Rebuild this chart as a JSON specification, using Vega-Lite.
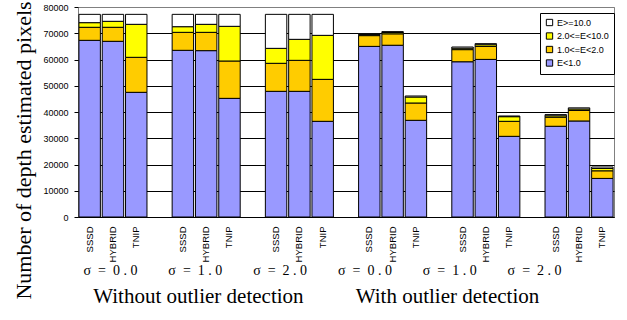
{
  "$schema": "https://vega.github.io/schema/vega-lite/v6.json",
  "autosize": "none",
  "width": 536,
  "height": 210,
  "padding": {"left": 78, "top": 7, "right": 13, "bottom": 103},
  "background": "white",
  "config": {
    "view": {"stroke": "#808080", "strokeWidth": 1},
    "font": "Liberation Sans",
    "axis": {"labelColor": "black", "titleColor": "black"}
  },
  "data": {
    "values": [
      {"det": "Without outlier detection", "grp": "0.0|W", "bar": "W0 SSSD", "lt1": 67300, "r12": 4970, "r210": 1760, "ge10": 3170},
      {"det": "Without outlier detection", "grp": "0.0|W", "bar": "W0 HYBRID", "lt1": 66930, "r12": 5340, "r210": 2280, "ge10": 2650},
      {"det": "Without outlier detection", "grp": "0.0|W", "bar": "W0 TNIP", "lt1": 47500, "r12": 13330, "r210": 12570, "ge10": 3800},
      {"det": "Without outlier detection", "grp": "1.0|W", "bar": "W1 SSSD", "lt1": 63500, "r12": 6850, "r210": 2150, "ge10": 4700},
      {"det": "Without outlier detection", "grp": "1.0|W", "bar": "W1 HYBRID", "lt1": 63370, "r12": 6980, "r210": 3050, "ge10": 3800},
      {"det": "Without outlier detection", "grp": "1.0|W", "bar": "W1 TNIP", "lt1": 45200, "r12": 14230, "r210": 13210, "ge10": 4560},
      {"det": "Without outlier detection", "grp": "2.0|W", "bar": "W2 SSSD", "lt1": 47870, "r12": 10680, "r210": 5700, "ge10": 12950},
      {"det": "Without outlier detection", "grp": "2.0|W", "bar": "W2 HYBRID", "lt1": 47870, "r12": 11810, "r210": 8000, "ge10": 9520},
      {"det": "Without outlier detection", "grp": "2.0|W", "bar": "W2 TNIP", "lt1": 36450, "r12": 15990, "r210": 16760, "ge10": 8000},
      {"det": "With outlier detection", "grp": "0.0|O", "bar": "O0 SSSD", "lt1": 65000, "r12": 4100, "r210": 450, "ge10": 300},
      {"det": "With outlier detection", "grp": "0.0|O", "bar": "O0 HYBRID", "lt1": 65430, "r12": 4350, "r210": 500, "ge10": 350},
      {"det": "With outlier detection", "grp": "0.0|O", "bar": "O0 TNIP", "lt1": 36830, "r12": 6600, "r210": 2280, "ge10": 390},
      {"det": "With outlier detection", "grp": "1.0|O", "bar": "O1 SSSD", "lt1": 59140, "r12": 4620, "r210": 550, "ge10": 450},
      {"det": "With outlier detection", "grp": "1.0|O", "bar": "O1 HYBRID", "lt1": 60040, "r12": 4950, "r210": 650, "ge10": 400},
      {"det": "With outlier detection", "grp": "1.0|O", "bar": "O1 TNIP", "lt1": 30730, "r12": 5720, "r210": 1770, "ge10": 260},
      {"det": "With outlier detection", "grp": "2.0|O", "bar": "O2 SSSD", "lt1": 34560, "r12": 3450, "r210": 550, "ge10": 450},
      {"det": "With outlier detection", "grp": "2.0|O", "bar": "O2 HYBRID", "lt1": 36580, "r12": 4000, "r210": 570, "ge10": 430},
      {"det": "With outlier detection", "grp": "2.0|O", "bar": "O2 TNIP", "lt1": 14700, "r12": 2900, "r210": 900, "ge10": 550}
    ]
  },
  "layer": [
    {
      "transform": [
        {"fold": ["lt1", "r12", "r210", "ge10"], "as": ["cat", "n"]},
        {"calculate": "indexof(['lt1','r12','r210','ge10'], datum.cat)", "as": "rank"}
      ],
      "mark": {"type": "bar", "stroke": "black", "strokeWidth": 1},
      "encoding": {
        "x": {
          "field": "bar",
          "type": "nominal",
          "scale": {
            "domain": ["W0 SSSD", "W0 HYBRID", "W0 TNIP", "gap1", "W1 SSSD", "W1 HYBRID", "W1 TNIP", "gap2", "W2 SSSD", "W2 HYBRID", "W2 TNIP", "gap3", "O0 SSSD", "O0 HYBRID", "O0 TNIP", "gap4", "O1 SSSD", "O1 HYBRID", "O1 TNIP", "gap5", "O2 SSSD", "O2 HYBRID", "O2 TNIP"],
            "paddingInner": 0.08,
            "paddingOuter": 0.04
          },
          "axis": {
            "orient": "bottom",
            "title": null,
            "labelAngle": 270,
            "labelFont": "Liberation Sans",
            "labelFontSize": 9.5,
            "labelPadding": 9,
            "ticks": false,
            "tickSize": 0,
            "domain": true,
            "domainColor": "black",
            "domainWidth": 1,
            "grid": false,
            "labelOverlap": false,
            "labelExpr": "indexof(datum.value,'gap') == 0 ? '' : split(datum.value,' ')[1]"
          }
        },
        "y": {
          "field": "n",
          "type": "quantitative",
          "stack": "zero",
          "scale": {"domain": [0, 80000], "nice": false},
          "axis": {
            "title": "Number of depth estimated pixels",
            "titleFont": "Liberation Serif",
            "titleFontSize": 22,
            "titleFontWeight": "normal",
            "titleX": -48,
            "titleY": 143,
            "titleAlign": "center",
            "titleBaseline": "alphabetic",
            "titleAngle": 270,
            "values": [0, 10000, 20000, 30000, 40000, 50000, 60000, 70000, 80000],
            "format": "d",
            "labelFont": "Liberation Sans",
            "labelFontSize": 9,
            "labelPadding": 6,
            "tickSize": 4,
            "tickColor": "black",
            "domain": false,
            "grid": true,
            "gridColor": {"condition": {"test": "datum.value == 80000", "value": "#808080"}, "value": "black"},
            "gridWidth": 1
          }
        },
        "color": {
          "field": "cat",
          "type": "nominal",
          "scale": {
            "domain": ["ge10", "r210", "r12", "lt1"],
            "range": ["#FFFFFF", "#FFFF00", "#FFCC00", "#9999FF"]
          },
          "legend": {
            "title": null,
            "orient": "none",
            "legendX": 462,
            "legendY": 6,
            "strokeColor": "black",
            "fillColor": "white",
            "padding": 5,
            "labelFont": "Liberation Sans",
            "labelFontSize": 9,
            "labelColor": "black",
            "labelOffset": 3,
            "rowPadding": 2.5,
            "symbolType": "square",
            "symbolSize": 40,
            "symbolStrokeColor": "black",
            "symbolStrokeWidth": 1,
            "labelExpr": "{'ge10':'E>=10.0','r210':'2.0<=E<10.0','r12':'1.0<=E<2.0','lt1':'E<1.0'}[datum.value]"
          }
        },
        "order": {"field": "rank", "type": "quantitative", "sort": "ascending"}
      }
    },
    {
      "mark": {"type": "point", "opacity": 0},
      "encoding": {
        "x": {
          "field": "grp",
          "type": "nominal",
          "scale": {
            "type": "point",
            "domain": ["0.0|W", "1.0|W", "2.0|W", "0.0|O", "1.0|O", "2.0|O"],
            "padding": 0.66,
            "align": 0.286
          },
          "axis": {
            "orient": "bottom",
            "title": null,
            "domain": false,
            "ticks": false,
            "tickSize": 0,
            "grid": false,
            "labelAngle": 0,
            "labelFont": "Liberation Serif",
            "labelFontSize": 14,
            "labelPadding": 46,
            "labelOverlap": false,
            "labelExpr": "'σ\u00a0\u00a0=\u00a0\u00a0' + replace(split(datum.value,'|')[0], '.', '\u00a0.\u00a0')"
          }
        }
      }
    },
    {
      "mark": {"type": "point", "opacity": 0},
      "encoding": {
        "x": {
          "field": "det",
          "type": "nominal",
          "scale": {
            "type": "point",
            "domain": ["Without outlier detection", "With outlier detection"],
            "padding": 0.576,
            "align": 0.418
          },
          "axis": {
            "orient": "bottom",
            "title": null,
            "domain": false,
            "ticks": false,
            "tickSize": 0,
            "grid": false,
            "labelAngle": 0,
            "labelFont": "Liberation Serif",
            "labelFontSize": 21,
            "labelPadding": 68,
            "labelLimit": 400,
            "labelOverlap": false
          }
        }
      }
    }
  ],
  "resolve": {"scale": {"x": "independent"}, "axis": {"x": "independent"}}
}
